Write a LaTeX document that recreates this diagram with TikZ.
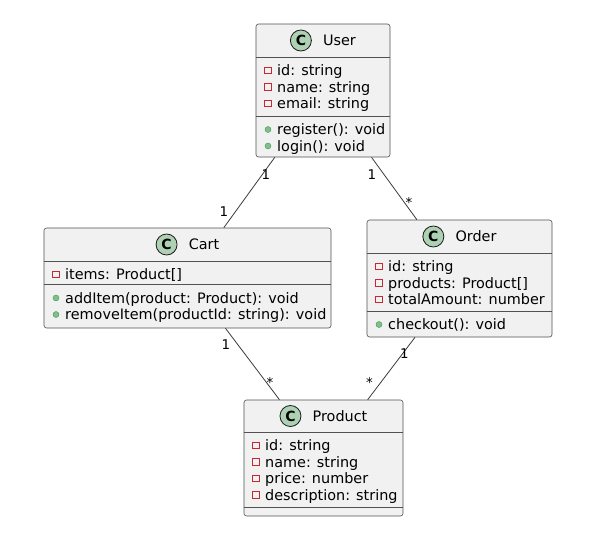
\documentclass[tikz,border=0pt]{standalone}
\usepackage{fontspec}
\setmainfont{DejaVu Sans}
\definecolor{boxfill}{HTML}{F1F1F1}
\definecolor{boxline}{HTML}{181818}
\definecolor{iconfill}{HTML}{ADD1B2}
\definecolor{privred}{HTML}{C82930}
\definecolor{pubfill}{HTML}{84BE84}
\definecolor{publine}{HTML}{038048}
\tikzset{
  classbox/.style={draw=boxline!75, fill=boxfill, rounded corners=2.5pt, line width=0.6pt, inner sep=0pt},
  divider/.style={draw=boxline!75, line width=0.6pt},
  titletext/.style={inner sep=0pt, anchor=center, text height=10.5pt, text depth=0pt, font=\fontsize{14.4}{16}\selectfont},
  cicon/.style={circle, draw=boxline, line width=0.8pt, fill=iconfill, minimum size=21pt, inner sep=0pt, font=\fontsize{14}{16}\bfseries\selectfont},
  rowtext/.style={inner sep=0pt, anchor=west, text height=10.5pt, text depth=0pt, font=\fontsize{14.4}{16}\selectfont},
  privmark/.style={rectangle, draw=privred, line width=0.8pt, minimum size=6.5pt, inner sep=0pt},
  pubmark/.style={circle, fill=pubfill, draw=publine!60!pubfill, line width=0.4pt, minimum size=6pt, inner sep=0pt},
  mult/.style={inner sep=0pt, font=\fontsize{13.4}{15}\selectfont},
  assoc/.style={draw=boxline!85, line width=0.8pt}
}
\newcommand\attrrow[4]{%
  \node[privmark] (#1m) at (#2+12,#3) {};
  \node[rowtext] (#1) at (#2+21,#3) {#4};}
\newcommand\methrow[4]{%
  \node[pubmark] (#1m) at (#2+12,#3) {};
  \node[rowtext] (#1) at (#2+21,#3) {#4};}
\begin{document}
\begin{tikzpicture}[x=1pt,y=-1pt]
\useasboundingbox (0,0) rectangle (604,538);
\fill[white] (0,0) rectangle (604,538);

% ---------- boxes ----------
\node[classbox, minimum width=134pt, minimum height=133pt] (user) at (323,90.5) {};
\node[classbox, minimum width=287pt, minimum height=100pt] (cart) at (187.5,278) {};
\node[classbox, minimum width=185pt, minimum height=117pt] (order) at (459.5,278.5) {};
\node[classbox, minimum width=159pt, minimum height=116pt] (product) at (323.5,458) {};

% ---------- connectors ----------
\draw[assoc] (user) -- (cart);
\draw[assoc] (user) -- (order);
\draw[assoc] (cart) -- (product);
\draw[assoc] (order) -- (product);

% ---------- User ----------
\node[titletext] (userT) at (323+16.5,40.5) {User};
\node[cicon] (userC) at ([xshift=-22pt]userT.west) {C};
\draw[divider] (user.west |- 0,57) -- (user.east |- 0,57);
\attrrow{u1}{256}{70.5}{id: string}
\attrrow{u2}{256}{87}{name: string}
\attrrow{u3}{256}{103.5}{email: string}
\draw[divider] (user.west |- 0,116) -- (user.east |- 0,116);
\methrow{u4}{256}{129.5}{register(): void}
\methrow{u5}{256}{146}{login(): void}

% ---------- Cart ----------
\node[titletext] (cartT) at (187.5+16.5,244.5) {Cart};
\node[cicon] (cartC) at ([xshift=-22pt]cartT.west) {C};
\draw[divider] (cart.west |- 0,261) -- (cart.east |- 0,261);
\attrrow{c1}{44}{274.5}{items: Product[]}
\draw[divider] (cart.west |- 0,284) -- (cart.east |- 0,284);
\methrow{c2}{44}{298}{addItem(product: Product): void}
\methrow{c3}{44}{314.5}{removeItem(productId: string): void}

% ---------- Order ----------
\node[titletext] (orderT) at (459.5+16.5,236.5) {Order};
\node[cicon] (orderC) at ([xshift=-22pt]orderT.west) {C};
\draw[divider] (order.west |- 0,253) -- (order.east |- 0,253);
\attrrow{o1}{367}{266.5}{id: string}
\attrrow{o2}{367}{283}{products: Product[]}
\attrrow{o3}{367}{299.5}{totalAmount: number}
\draw[divider] (order.west |- 0,311) -- (order.east |- 0,311);
\methrow{o4}{367}{324.5}{checkout(): void}

% ---------- Product ----------
\node[titletext] (productT) at (323.5+16.5,416) {Product};
\node[cicon] (productC) at ([xshift=-22pt]productT.west) {C};
\draw[divider] (product.west |- 0,432) -- (product.east |- 0,432);
\attrrow{p1}{244}{445.5}{id: string}
\attrrow{p2}{244}{462}{name: string}
\attrrow{p3}{244}{478.5}{price: number}
\attrrow{p4}{244}{495}{description: string}
\draw[divider] (product.west |- 0,507.5) -- (product.east |- 0,507.5);

% ---------- multiplicities ----------
\node[mult] (m1) at (266,175) {1};
\node[mult] (m2) at (224,211.5) {1};
\node[mult] (m3) at (372,175) {1};
\node[mult] (m4) at (409,203) {*};
\node[mult] (m5) at (226,345) {1};
\node[mult] (m6) at (270,383) {*};
\node[mult] (m7) at (369.5,383) {*};
\node[mult] (m8) at (404.5,353.5) {1};
\end{tikzpicture}
\end{document}
